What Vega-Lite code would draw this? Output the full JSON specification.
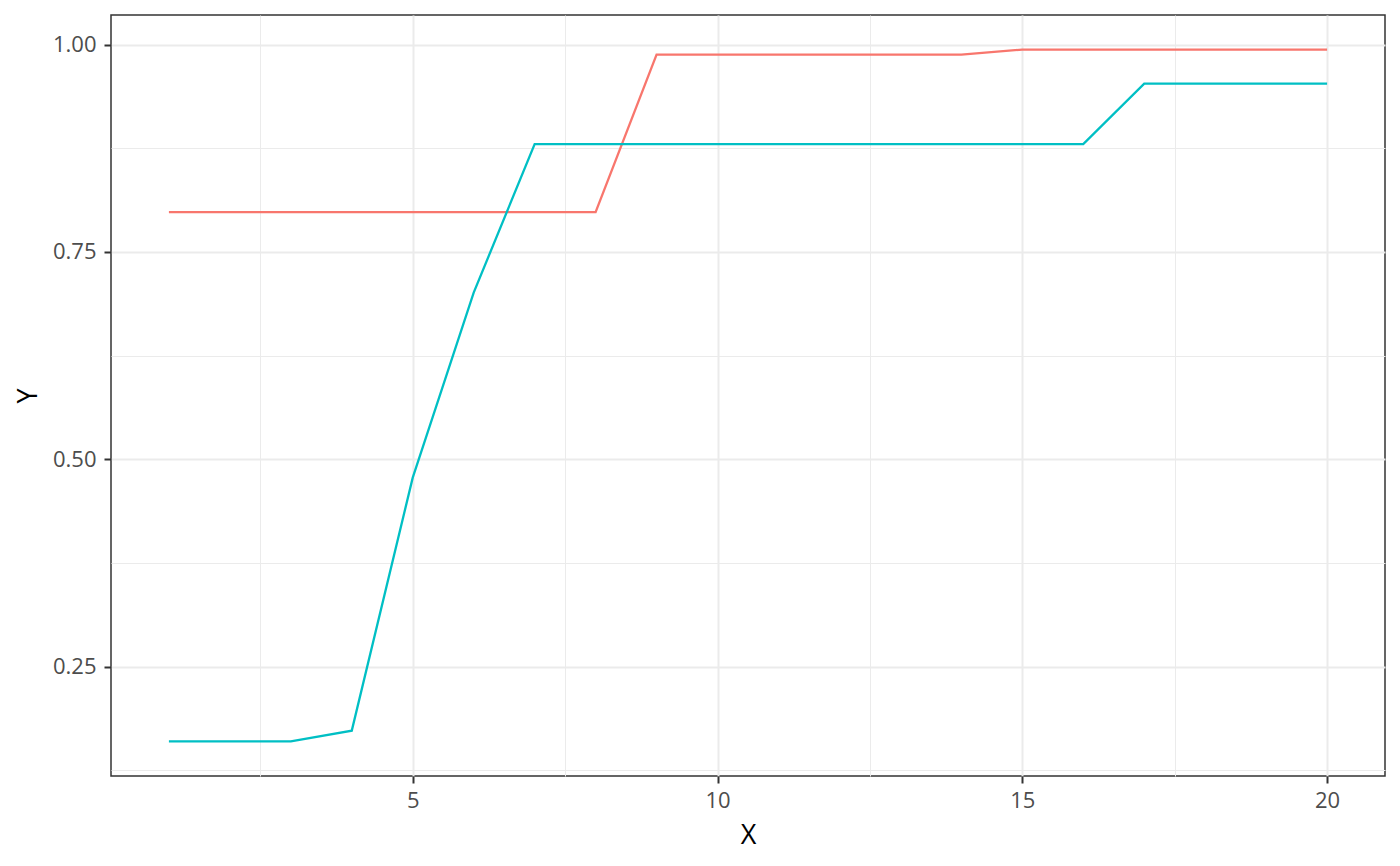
{
  "$schema": "https://vega.github.io/schema/vega-lite/v6.json",
  "width": 1274,
  "height": 761,
  "autosize": {"type": "none"},
  "padding": {"left": 111, "top": 15, "right": 15, "bottom": 90},
  "background": "white",
  "data": {
    "values": [
      {"x": 1, "y": 0.798, "series": "A"},
      {"x": 2, "y": 0.798, "series": "A"},
      {"x": 3, "y": 0.798, "series": "A"},
      {"x": 4, "y": 0.798, "series": "A"},
      {"x": 5, "y": 0.798, "series": "A"},
      {"x": 6, "y": 0.798, "series": "A"},
      {"x": 7, "y": 0.798, "series": "A"},
      {"x": 8, "y": 0.798, "series": "A"},
      {"x": 9, "y": 0.988, "series": "A"},
      {"x": 10, "y": 0.988, "series": "A"},
      {"x": 11, "y": 0.988, "series": "A"},
      {"x": 12, "y": 0.988, "series": "A"},
      {"x": 13, "y": 0.988, "series": "A"},
      {"x": 14, "y": 0.988, "series": "A"},
      {"x": 15, "y": 0.994, "series": "A"},
      {"x": 16, "y": 0.994, "series": "A"},
      {"x": 17, "y": 0.994, "series": "A"},
      {"x": 18, "y": 0.994, "series": "A"},
      {"x": 19, "y": 0.994, "series": "A"},
      {"x": 20, "y": 0.994, "series": "A"},
      {"x": 1, "y": 0.16, "series": "B"},
      {"x": 2, "y": 0.16, "series": "B"},
      {"x": 3, "y": 0.16, "series": "B"},
      {"x": 4, "y": 0.173, "series": "B"},
      {"x": 5, "y": 0.478, "series": "B"},
      {"x": 6, "y": 0.701, "series": "B"},
      {"x": 7, "y": 0.88, "series": "B"},
      {"x": 8, "y": 0.88, "series": "B"},
      {"x": 9, "y": 0.88, "series": "B"},
      {"x": 10, "y": 0.88, "series": "B"},
      {"x": 11, "y": 0.88, "series": "B"},
      {"x": 12, "y": 0.88, "series": "B"},
      {"x": 13, "y": 0.88, "series": "B"},
      {"x": 14, "y": 0.88, "series": "B"},
      {"x": 15, "y": 0.88, "series": "B"},
      {"x": 16, "y": 0.88, "series": "B"},
      {"x": 17, "y": 0.953, "series": "B"},
      {"x": 18, "y": 0.953, "series": "B"},
      {"x": 19, "y": 0.953, "series": "B"},
      {"x": 20, "y": 0.953, "series": "B"}
    ]
  },
  "config": {
    "view": {"stroke": "#333333", "strokeWidth": 1.5},
    "font": "Open Sans"
  },
  "mark": {"type": "line", "strokeWidth": 2.3, "clip": true},
  "encoding": {
    "x": {
      "field": "x",
      "type": "quantitative",
      "scale": {"domain": [0.05, 20.95], "nice": false, "zero": false},
      "axis": {
        "title": "X",
        "values": [2.5, 5, 7.5, 10, 12.5, 15, 17.5, 20],
        "labelExpr": "datum.value % 5 === 0 ? datum.label : ''",
        "domain": false,
        "grid": true,
        "gridColor": "#EBEBEB",
        "gridWidth": {"condition": {"test": "datum.value % 5 === 0", "value": 2}, "value": 1},
        "tickColor": "#333333",
        "tickWidth": 2,
        "tickSize": 7,
        "tickOpacity": {"condition": {"test": "datum.value % 5 === 0", "value": 1}, "value": 0},
        "labelFont": "Open Sans",
        "labelFontSize": 22,
        "labelColor": "#4D4D4D",
        "labelBaseline": "alphabetic",
        "labelPadding": 24,
        "titleFont": "Open Sans",
        "titleFontSize": 27,
        "titleFontWeight": "normal",
        "titleColor": "#000000",
        "titleX": 637,
        "titleY": 67,
        "titleBaseline": "alphabetic",
        "titleAlign": "center"
      }
    },
    "y": {
      "field": "y",
      "type": "quantitative",
      "scale": {"domain": [0.1183, 1.0357], "nice": false, "zero": false},
      "axis": {
        "title": "Y",
        "values": [0.125, 0.25, 0.375, 0.5, 0.625, 0.75, 0.875, 1.0],
        "labelExpr": "(datum.value * 4) % 1 === 0 ? format(datum.value, '.2f') : ''",
        "domain": false,
        "grid": true,
        "gridColor": "#EBEBEB",
        "gridWidth": {"condition": {"test": "(datum.value * 4) % 1 === 0", "value": 2}, "value": 1},
        "tickColor": "#333333",
        "tickWidth": 2,
        "tickSize": 7,
        "tickOpacity": {"condition": {"test": "(datum.value * 4) % 1 === 0", "value": 1}, "value": 0},
        "labelFont": "Open Sans",
        "labelFontSize": 22,
        "labelColor": "#4D4D4D",
        "labelPadding": 8,
        "titleFont": "Open Sans",
        "titleFontSize": 27,
        "titleFontWeight": "normal",
        "titleColor": "#000000",
        "titleX": -75,
        "titleY": 380.5,
        "titleAngle": -90,
        "titleBaseline": "alphabetic",
        "titleAlign": "center"
      }
    },
    "color": {
      "field": "series",
      "type": "nominal",
      "scale": {"domain": ["A", "B"], "range": ["#F8766D", "#00BFC4"]},
      "legend": null
    }
  }
}
